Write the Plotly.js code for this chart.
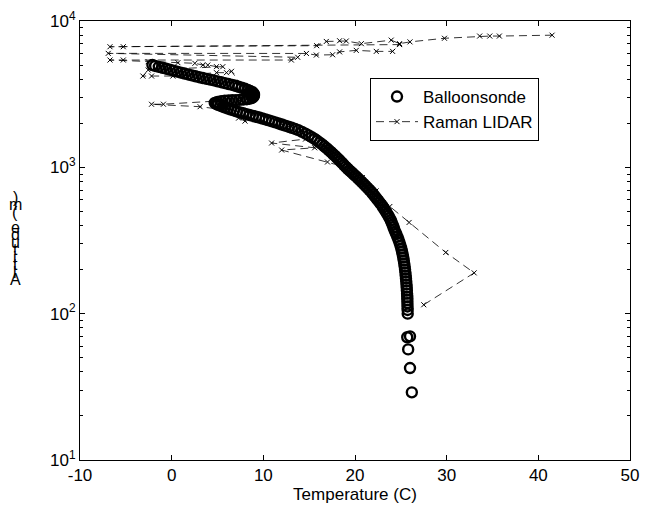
<!DOCTYPE html>
<html>
<head>
<meta charset="utf-8">
<script src="https://cdn.plot.ly/plotly-3.0.1.min.js"></script>
<style>html,body{margin:0;padding:0;background:#fff;}#chart{width:645px;height:510px;}</style>
</head>
<body>
<div id="chart"></div>
<script>
// ---------- data ----------
var balloonTemp = [
  26.2, 26.0, 25.8, 25.7, 26.0,
  25.75, 25.74, 25.73, 25.72, 25.71, 25.70, 25.68, 25.66, 25.64, 25.62, 25.59, 25.56, 25.53, 25.50,
  25.46, 25.42, 25.37, 25.32, 25.26, 25.20, 25.13, 25.05, 24.96, 24.86, 24.75, 24.62, 24.50,
  24.40, 24.30, 24.20, 24.10, 24.00, 23.90, 23.77, 23.65, 23.52, 23.38, 23.22, 23.06, 22.90,
  22.72, 22.54, 22.36, 22.17, 21.98, 21.80, 21.58, 21.36, 21.15, 20.94, 20.72, 20.50, 20.30,
  20.08, 19.86, 19.64, 19.42, 19.20, 19.00, 18.80, 18.62, 18.42, 18.22, 18.01, 17.80, 17.58,
  17.36, 17.13, 16.90, 16.66, 16.41, 16.15, 15.88, 15.59, 15.28, 14.95, 14.60, 14.22, 13.82,
  13.47, 13.10, 12.74, 12.38, 12.02, 11.66, 11.30, 10.95, 10.60, 10.25, 9.90, 9.55, 9.20,
  8.85, 8.50, 8.15, 7.80, 7.45, 7.10, 6.78, 6.46, 6.15, 5.85, 5.57, 5.30, 5.05, 4.85, 4.70,
  5.0, 5.4, 5.8, 6.2, 6.6, 7.0, 7.4, 7.8, 8.2, 8.5, 8.75, 8.9, 8.97, 8.98, 8.95, 8.88, 8.75,
  8.55, 8.3, 8.0, 7.65, 7.3, 6.95, 6.6, 6.2, 5.8, 5.4, 5.0, 4.6, 4.2, 3.8, 3.4, 3.0, 2.6, 2.2,
  1.8, 1.4, 1.0, 0.6, 0.2, -0.2, -0.6, -1.0, -1.4, -1.8, -2.1
];
var balloonAlt = [
  29, 42.5, 57, 69, 70,
  100, 106, 112, 118, 124, 130, 137, 144, 151, 158, 166, 174, 182, 191,
  200, 210, 220, 231, 242, 254, 266, 279, 292, 306, 320, 335, 350,
  361, 375, 390, 405, 420, 435, 450, 465, 480, 497, 515, 534, 553,
  572, 592, 612, 633, 655, 678, 700, 723, 746, 770, 795, 820, 845,
  870, 896, 923, 950, 978, 1007, 1037, 1068, 1100, 1133, 1167, 1202, 1238,
  1275, 1313, 1352, 1392, 1433, 1475, 1518, 1562, 1607, 1653, 1700, 1748, 1797,
  1830, 1863, 1896, 1929, 1962, 1995, 2028, 2060, 2092, 2124, 2156, 2188, 2218,
  2248, 2278, 2310, 2342, 2375, 2410, 2446, 2483, 2520, 2558, 2597, 2636, 2676, 2716, 2753,
  2800, 2830, 2850, 2862, 2872, 2880, 2890, 2902, 2920, 2945, 2980, 3025, 3075, 3125, 3175, 3225, 3275,
  3325, 3380, 3440, 3495, 3550, 3610, 3660, 3710, 3765, 3815, 3870, 3930, 3975, 4025, 4075, 4130, 4190, 4250,
  4310, 4375, 4440, 4510, 4580, 4650, 4720, 4790, 4860, 4930, 5000
];
var lidarTemp = [
  27.5, 33.0, 29.9, 25.9, 23.8, 22.3, 20.8, 19.6, 17.0, 12.0, 15.6, 10.9, 14.6, 12.9, 8.0, 7.3,
  9.0, 3.1, -2.2, -0.9, 5.8, 7.3, 9.06, 7.6, 6.53, 5.98, 4.89, 0.13, -2.19, -3.14, -2.56, 5.58,
  4.89, 3.94, 3.4, 2.53, 0.68, -2.56, -5.28, -6.73, 13.06, 13.75, -6.92, 14.7, 15.78, 17.56,
  18.32, 20.14, 22.32, 24.1, 24.86, -5.28, -6.73, 15.82, 16.87, 18.32, 19.05, 20.69, 23.95,
  24.86, 26.0, 29.76, 33.6, 34.7, 35.75, 41.5
];
var lidarAlt = [
  115, 190, 262, 420, 540, 690, 850, 980, 1087, 1313, 1360, 1466, 1560, 1940, 2070, 2170,
  2330, 2596, 2698, 2700, 2860, 2900, 3290, 3650, 4530, 4436, 4436, 4206, 4206, 4206, 4624, 4875,
  4875, 5000, 5000, 5140, 5190, 5272, 5410, 5410, 5410, 5650, 6010, 6000, 5850, 5880,
  6150, 6300, 6200, 6200, 6900, 6670, 6670, 6780, 7250, 7330, 7300, 7000, 7400,
  7000, 7200, 7620, 7890, 7890, 7890, 8000
];
var xTickVals = [-10, 0, 10, 20, 30, 40, 50];
var xTickText = ['-10', '0', '10', '20', '30', '40', '50'];
var yTickVals = [10, 100, 1000, 10000];
var yTickText = ['10<sup>1</sup>', '10<sup>2</sup>', '10<sup>3</sup>', '10<sup>4</sup>'];
var seriesNames = ['Balloonsonde', 'Raman LIDAR'];
var xTitle = 'Temperature (C)';
var yTitle = 'Altitude (m)';

// ---------- chart ----------
var FONT = 'Liberation Sans, Arial, Helvetica, sans-serif';
var traces = [
  {
    x: balloonTemp, y: balloonAlt, name: seriesNames[0], type: 'scatter', mode: 'markers',
    marker: {symbol: 'circle-open', size: 10, color: '#000', line: {width: 2.4, color: '#000'}}
  },
  {
    x: lidarTemp, y: lidarAlt, name: seriesNames[1], type: 'scatter', mode: 'lines+markers',
    line: {color: '#000', width: 0.8, dash: '8px,5px'},
    marker: {symbol: 'x-thin-open', size: 5, color: '#000', line: {width: 1, color: '#000'}}
  }
];

// y label drawn as stacked characters (as in the reference)
var annotations = [];
var chars = yTitle.split('').reverse();
for (var i = 0; i < chars.length; i++) {
  if (chars[i] === ' ') continue;
  var py = 197 + i * 7.5;
  annotations.push({
    text: chars[i], xref: 'paper', yref: 'paper', x: (15 - 80) / 550, y: (460 - py) / 439,
    xanchor: 'center', yanchor: 'middle', showarrow: false,
    font: {family: FONT, size: 16, color: '#000'}
  });
}

var axisCommon = {
  showline: true, linecolor: '#000', linewidth: 1, mirror: 'ticks',
  ticks: 'inside', ticklen: 5, tickcolor: '#000', tickwidth: 1,
  showgrid: false, zeroline: false,
  tickfont: {family: FONT, size: 17, color: '#000'}
};

var layout = {
  width: 645, height: 510,
  margin: {l: 80, r: 15, t: 21, b: 50},
  paper_bgcolor: '#fff', plot_bgcolor: '#fff',
  font: {family: FONT, size: 17, color: '#000'},
  showlegend: true,
  legend: {
    x: (370 - 80) / 550, y: (460 - 78) / 439, xanchor: 'left', yanchor: 'top',
    bordercolor: '#000', borderwidth: 1, bgcolor: '#fff', itemwidth: 42,
    font: {family: FONT, size: 17, color: '#000'}, tracegroupgap: 0
  },
  xaxis: Object.assign({}, axisCommon, {
    range: [-10, 50], tickmode: 'array', tickvals: xTickVals, ticktext: xTickText,
    title: {text: xTitle, font: {family: FONT, size: 17, color: '#000'}, standoff: 2}
  }),
  yaxis: Object.assign({}, axisCommon, {
    type: 'log', range: [1, 4], tickmode: 'array', tickvals: yTickVals, ticktext: yTickText,
    minor: {ticks: 'inside', ticklen: 3, tickcolor: '#000', tickwidth: 1, showgrid: false, dtick: 'D1'}
  }),
  annotations: annotations
};

Plotly.newPlot('chart', traces, layout, {staticPlot: true, displayModeBar: false});
</script>
</body>
</html>
